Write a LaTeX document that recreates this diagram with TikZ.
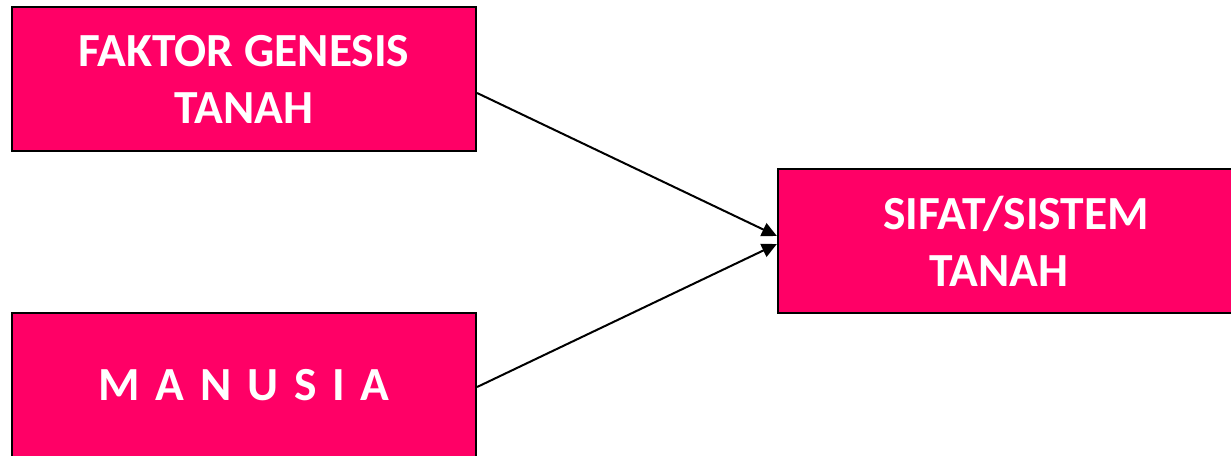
\documentclass[tikz,border=0pt]{standalone}
\usepackage{fontspec}
\setmainfont{Carlito}
\usetikzlibrary{arrows.meta}
\definecolor{boxpink}{HTML}{FF0066}
\tikzset{
  pinkbox/.style={draw=black, line width=2.2pt, fill=boxpink, text=white,
    font=\fontsize{47.5}{57}\selectfont\bfseries, align=center, inner sep=0pt},
  conn/.style={draw=black, line width=2pt, -{Triangle[length=15pt,width=14pt]}}
}
\begin{document}
\begin{tikzpicture}[x=1pt,y=-1pt]
\useasboundingbox (0,0) rectangle (1231,455);
\node[pinkbox, minimum width=464pt, minimum height=144pt] (f) at (244,79) {FAKTOR GENESIS\\TANAH};
\node[pinkbox, minimum width=464pt, minimum height=144pt] (m) at (244,385) {M\hspace{15.7pt}A\hspace{15.7pt}N\hspace{15.7pt}U\hspace{15.7pt}S\hspace{15.7pt}I\hspace{15.7pt}A};
\node[pinkbox, minimum width=470pt, minimum height=144pt] (s) at (1013,241) {\hspace*{34pt}SIFAT/SISTEM\hspace*{28pt}\\TANAH\hspace*{28pt}};
\draw[conn] ([yshift=-14pt]f.east) -- ([yshift=5pt]s.west);
\draw[conn] ([yshift=-2pt]m.east) -- ([yshift=-3pt]s.west);
\end{tikzpicture}
\end{document}
